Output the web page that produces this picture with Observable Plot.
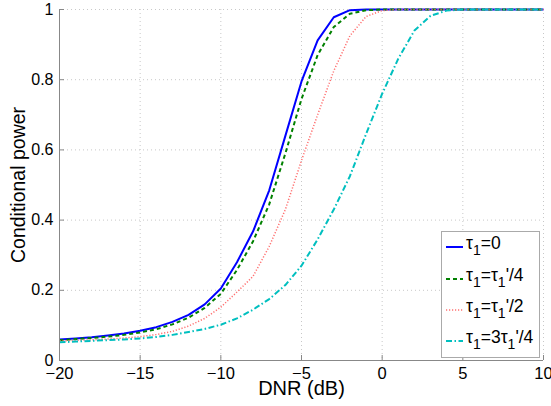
<!DOCTYPE html>
<html><head><meta charset="utf-8">
<script src="https://cdn.jsdelivr.net/npm/d3@7"></script>
<script src="https://cdn.jsdelivr.net/npm/@observablehq/plot@0.6"></script>
<style>
body{margin:0;background:#fff;}
#wrap{position:relative;width:551px;height:406px;}
</style>
</head><body><div id="wrap"></div>
<script>
const dnr = [-20,-19,-18,-17,-16,-15,-14,-13,-12,-11,-10,-9,-8,-7,-6,-5,-4,-3,-2,-1,0,1,2,3,4,5,6,7,8,9,10];
const powTau0 = [0.060,0.063,0.066,0.071,0.077,0.085,0.095,0.110,0.130,0.160,0.205,0.280,0.368,0.485,0.640,0.795,0.912,0.978,0.998,1,1,1,1,1,1,1,1,1,1,1,1];
const powTauQuarter = [0.058,0.061,0.064,0.068,0.073,0.080,0.089,0.103,0.122,0.150,0.190,0.258,0.340,0.445,0.590,0.745,0.870,0.950,0.988,0.998,1,1,1,1,1,1,1,1,1,1,1];
const powTauHalf = [0.056,0.057,0.059,0.061,0.064,0.068,0.074,0.083,0.098,0.120,0.152,0.195,0.240,0.325,0.430,0.570,0.700,0.825,0.925,0.980,0.997,1,1,1,1,1,1,1,1,1,1];
const powTau3Quarter = [0.052,0.054,0.056,0.058,0.060,0.063,0.067,0.073,0.081,0.090,0.102,0.120,0.145,0.175,0.215,0.270,0.345,0.430,0.525,0.645,0.760,0.860,0.940,0.982,0.997,1,1,1,1,1,1];
const xTicks = [-20,-15,-10,-5,0,5,10];
const yTicks = [0,0.2,0.4,0.6,0.8,1];
const xLabel = "DNR (dB)";
const yLabel = "Conditional power";

const seriesDefs = [
  {vals: powTau0, stroke:"#0000ff", width:2, dash:null, sub:["τ","1","=0"]},
  {vals: powTauQuarter, stroke:"#008000", width:2, dash:"4,3", sub:["τ","1","=τ","1","'/4"]},
  {vals: powTauHalf, stroke:"#ff7070", width:1.5, dash:"1.2,1.8", sub:["τ","1","=τ","1","'/2"]},
  {vals: powTau3Quarter, stroke:"#00bfbf", width:2, dash:"6,2.5,1.5,2.5", sub:["τ","1","=3τ","1","'/4"]}
];

const font = "'Liberation Sans', Arial, Helvetica, sans-serif";
const fmtX = d => d < 0 ? "\u2212" + Math.abs(d) : String(d);
const fmtY = d => (d === 0 || d === 1) ? String(d) : d.toFixed(1);

const lineMarks = seriesDefs.map(s => Plot.lineY(s.vals.map((v,i)=>({x:dnr[i], y:v})), {
  x:"x", y:"y", stroke:s.stroke, strokeWidth:s.width, strokeDasharray:s.dash, strokeLinejoin:"round", strokeLinecap:"butt"
}));

const plot = Plot.plot({
  width:551, height:406,
  marginLeft:59, marginRight:8, marginTop:9, marginBottom:46,
  style:{fontFamily:font, fontSize:"16px", background:"#fff", color:"#000"},
  x:{domain:[-20,10]},
  y:{domain:[0,1]},
  marks:[
    Plot.gridX(xTicks, {stroke:"#c8c8c8", strokeOpacity:1, strokeDasharray:"1,3"}),
    Plot.gridY(yTicks, {stroke:"#c8c8c8", strokeOpacity:1, strokeDasharray:"1,3"}),
    ...lineMarks,
    Plot.ruleY([0], {stroke:"#888"}),
    Plot.ruleX([-20], {stroke:"#888"}),
    Plot.axisX(xTicks, {tickSize:-5, text:null, label:null, stroke:"#888"}),
    Plot.axisY(yTicks, {tickSize:-5, text:null, label:null, stroke:"#888"}),
    Plot.axisX(xTicks, {tickSize:0, tickPadding:7, tickFormat:fmtX, label:null, fontSize:16.5}),
    Plot.axisY(yTicks, {tickSize:0, tickPadding:6, tickFormat:fmtY, label:null, fontSize:16}),
    Plot.text([xLabel], {frameAnchor:"bottom", dy:28, text:d=>d, fontSize:20, textAnchor:"middle", lineAnchor:"middle"}),
    Plot.text([yLabel], {frameAnchor:"left", dx:-41, rotate:-90, text:d=>d, fontSize:19.5, textAnchor:"middle", lineAnchor:"middle"})
  ]
});
document.getElementById("wrap").appendChild(plot);

// Legend
const svg = d3.select(plot);
const lg = svg.append("g").attr("font-family", font).attr("font-size", 17.5).attr("text-anchor","start");
lg.append("rect").attr("x",441.5).attr("y",231.5).attr("width",98).attr("height",126)
  .attr("fill","#fff").attr("stroke","#aaa");
const rowY = [247, 279, 310, 341];
seriesDefs.forEach((s,i) => {
  const y = rowY[i];
  lg.append("line").attr("x1",446).attr("x2",463).attr("y1",y).attr("y2",y)
    .attr("stroke",s.stroke).attr("stroke-width",s.width).attr("stroke-dasharray",s.dash);
  const t = lg.append("text").attr("x",466).attr("y",y+2).attr("text-anchor","start");
  s.sub.forEach((part,j) => {
    const isSub = j % 2 === 1;
    const ts = t.append("tspan").text(part);
    if (isSub) ts.attr("dy",6).attr("font-size",14);
    else if (j > 0) ts.attr("dy",-6);
  });
});
</script>
</body></html>
